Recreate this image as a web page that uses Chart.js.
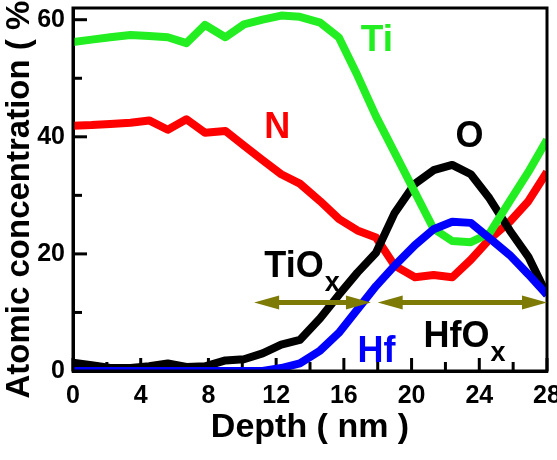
<!DOCTYPE html>
<html>
<head>
<meta charset="utf-8">
<script src="https://cdn.jsdelivr.net/npm/chart.js@4.4.1/dist/chart.umd.min.js"></script>
<style>
  html, body { margin: 0; padding: 0; background: #ffffff; }
  #wrap { width: 557px; height: 460px; position: relative; }
</style>
</head>
<body>
<div id="wrap"><canvas id="c"></canvas></div>
<script>
// ---- Data ----
const depth = [0, 1.1, 2.2, 3.4, 4.5, 5.6, 6.7, 7.8, 9.0, 10.1, 11.2, 12.3, 13.4, 14.6, 15.7, 16.8, 17.9, 19.0, 20.2, 21.3, 22.4, 23.5, 24.6, 25.8, 26.9, 28.0];
const ti = [56.2, 56.6, 57.0, 57.4, 57.2, 57.0, 56.0, 59.1, 57.0, 59.2, 60.0, 60.7, 60.5, 59.5, 57.0, 50.5, 43.5, 37.3, 30.5, 24.3, 22.2, 22.0, 23.5, 29.0, 34.0, 39.5];
const n  = [41.9, 42.0, 42.2, 42.4, 42.8, 41.2, 43.0, 40.7, 41.0, 38.5, 36.0, 33.6, 32.0, 29.0, 26.0, 24.0, 22.8, 18.0, 16.0, 16.4, 16.0, 19.0, 22.5, 25.5, 29.0, 34.0];
const o  = [1.4, 1.0, 0.5, 0.5, 0.8, 1.3, 0.7, 0.8, 1.8, 2.0, 3.0, 4.5, 5.3, 9.0, 13.0, 16.8, 20.2, 27.0, 32.0, 34.3, 35.2, 33.6, 29.5, 24.0, 19.5, 13.0];
const hf = [0, 0, 0, 0, 0, 0, 0, 0, 0, 0, 0, 0.5, 1.3, 3.5, 6.5, 10.5, 14.5, 18.0, 21.5, 24.2, 25.5, 25.3, 22.7, 19.8, 16.5, 13.0];
const seriesNames = ['Hf', 'Ti', 'O', 'N'];
const xTickLabels = [0, 4, 8, 12, 16, 20, 24, 28];
const yTickLabels = [0, 20, 40, 60];
const xTickMarks = [0, 2, 4, 6, 8, 10, 12, 14, 16, 18, 20, 22, 24, 26, 28];
const yTickMarks = [0, 10, 20, 30, 40, 50, 60];

// Region arrows (depth range, concentration level)
const regionArrows = [
  { from: 10.7, to: 17.6, level: 11.7 },
  { from: 18.0, to: 28.0, level: 11.7 }
];
// Text annotations (anchor = left / baseline in data coords)
const annotations = [
  { text: 'Ti', sub: '', x: 17.0, y: 54.6, color: '#22ee22', size: 37 },
  { text: 'N', sub: '', x: 11.3, y: 39.8, color: '#ff0000', size: 36 },
  { text: 'O', sub: '', x: 22.6, y: 38.3, color: '#000000', size: 36 },
  { text: 'TiO', sub: 'x', x: 11.3, y: 16.0, color: '#000000', size: 36 },
  { text: 'Hf', sub: '', x: 16.8, y: 1.5, color: '#0000ff', size: 36 },
  { text: 'HfO', sub: 'x', x: 20.7, y: 4.1, color: '#000000', size: 36 }
];

const colors = { Hf: '#0000ff', Ti: '#22ee22', O: '#000000', N: '#ff0000' };
const valuesByName = { Hf: hf, Ti: ti, O: o, N: n };
const FONT = '"Liberation Sans", Arial, Helvetica, sans-serif';
const AXIS_COLOR = '#000000';

const datasets = seriesNames.map(name => ({
  label: name,
  data: depth.map((d, i) => ({ x: d, y: valuesByName[name][i] })),
  borderColor: colors[name],
  backgroundColor: colors[name],
  borderWidth: 8,
  pointRadius: 0,
  tension: 0,
  borderJoinStyle: 'round',
  borderCapStyle: 'butt',
  fill: false
}));

const decorPlugin = {
  id: 'decor',
  beforeDatasetsDraw(chart) {
    const ctx = chart.ctx, x = chart.scales.x, y = chart.scales.y;
    const L = x.getPixelForValue(0), B = y.getPixelForValue(0);
    ctx.save();
    ctx.strokeStyle = AXIS_COLOR;
    ctx.lineWidth = 3;
    xTickMarks.forEach(v => {
      const px = x.getPixelForValue(v);
      const len = xTickLabels.includes(v) ? 13 : 9;
      ctx.beginPath(); ctx.moveTo(px, B); ctx.lineTo(px, B - len); ctx.stroke();
    });
    yTickMarks.forEach(v => {
      const py = y.getPixelForValue(v);
      const len = yTickLabels.includes(v) ? 14 : 9;
      ctx.beginPath(); ctx.moveTo(L, py); ctx.lineTo(L + len, py); ctx.stroke();
    });
    ctx.restore();
  },
  afterDatasetsDraw(chart) {
    const ctx = chart.ctx, x = chart.scales.x, y = chart.scales.y;
    const L = x.getPixelForValue(0), R = x.getPixelForValue(28);
    const B = y.getPixelForValue(0), T = y.getPixelForValue(62);
    ctx.save();
    ctx.strokeStyle = AXIS_COLOR;
    ctx.lineWidth = 3;
    ctx.strokeRect(L, T, R - L, B - T);
    ctx.fillStyle = '#7d7a05';
    ctx.strokeStyle = '#7d7a05';
    regionArrows.forEach(ar => {
      const x1 = x.getPixelForValue(ar.from), x2 = x.getPixelForValue(ar.to);
      const py = y.getPixelForValue(ar.level);
      const hl = 25, hh = 7;
      ctx.lineWidth = 5;
      ctx.beginPath(); ctx.moveTo(x1 + hl - 2, py); ctx.lineTo(x2 - hl + 2, py); ctx.stroke();
      ctx.beginPath(); ctx.moveTo(x1, py); ctx.lineTo(x1 + hl, py - hh); ctx.lineTo(x1 + hl, py + hh); ctx.closePath(); ctx.fill();
      ctx.beginPath(); ctx.moveTo(x2, py); ctx.lineTo(x2 - hl, py - hh); ctx.lineTo(x2 - hl, py + hh); ctx.closePath(); ctx.fill();
    });
    ctx.textBaseline = 'alphabetic';
    ctx.textAlign = 'left';
    annotations.forEach(t => {
      const px = x.getPixelForValue(t.x), py = y.getPixelForValue(t.y);
      ctx.fillStyle = t.color;
      ctx.font = 'bold ' + t.size + 'px ' + FONT;
      ctx.fillText(t.text, px, py);
      if (t.sub) {
        const w = ctx.measureText(t.text).width;
        ctx.font = 'bold ' + Math.round(t.size * 0.75) + 'px ' + FONT;
        ctx.fillText(t.sub, px + w + 1, py + 14);
      }
    });
    ctx.restore();
  }
};

new Chart(document.getElementById('c'), {
  type: 'line',
  data: { datasets },
  options: {
    responsive: true,
    maintainAspectRatio: false,
    animation: false,
    layout: { padding: { top: 8, right: 10, left: 0, bottom: 0 } },
    plugins: { legend: { display: false }, tooltip: { enabled: false } },
    scales: {
      x: {
        type: 'linear', min: 0, max: 28,
        grid: { display: false, drawTicks: false },
        border: { display: true, color: AXIS_COLOR, width: 3 },
        ticks: {
          stepSize: 2, padding: 10, color: '#000', maxRotation: 0, autoSkip: false, includeBounds: false,
          font: { family: FONT, size: 25, weight: 'bold' },
          callback: v => xTickLabels.includes(v) ? String(v) : ''
        },
        title: {
          display: true, text: 'Depth ( nm )', color: '#000',
          font: { family: FONT, size: 34, weight: 'bold' },
          padding: { top: 0, bottom: 12 }
        },
        afterFit: s => { s.height = 89; s.paddingLeft = 0; s.paddingRight = 0; }
      },
      y: {
        type: 'linear', min: 0, max: 62,
        grid: { display: false, drawTicks: false },
        border: { display: true, color: AXIS_COLOR, width: 3 },
        ticks: {
          stepSize: 10, padding: 8, color: '#000', autoSkip: false, includeBounds: false,
          font: { family: FONT, size: 25, weight: 'bold' },
          callback: v => yTickLabels.includes(v) ? String(v) : ''
        },
        title: {
          display: true, text: 'Atomic concentration ( % )', color: '#000',
          font: { family: FONT, size: 33, weight: 'bold' },
          padding: { top: 0, bottom: 0 }
        },
        afterFit: s => { s.width = 73; s.paddingTop = 0; s.paddingBottom = 0; }
      }
    }
  },
  plugins: [decorPlugin]
});
</script>
</body>
</html>
